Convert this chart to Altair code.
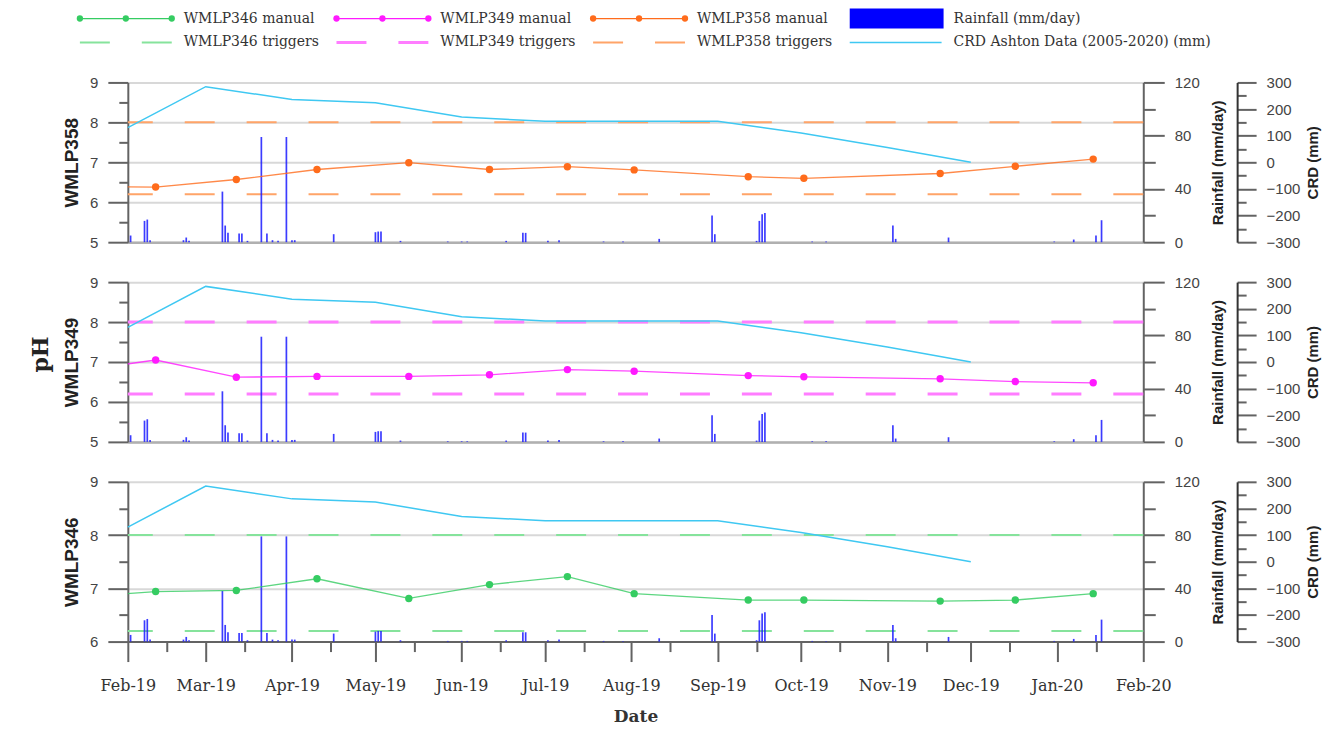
import altair as alt
import pandas as pd

# manual pH readings, same visit dates for the three wells
sample_dates = ["2019-01-14", "2019-02-11", "2019-03-12", "2019-04-10", "2019-05-13",
                "2019-06-11", "2019-07-09", "2019-08-02", "2019-09-12", "2019-10-02",
                "2019-11-20", "2019-12-17", "2020-01-14"]
ph_wmlp358 = [6.40, 6.38, 6.57, 6.82, 6.99, 6.82, 6.89, 6.81, 6.64, 6.60, 6.72, 6.90, 7.08]
ph_wmlp349 = [6.78, 7.05, 6.62, 6.64, 6.64, 6.68, 6.81, 6.77, 6.66, 6.63, 6.58, 6.51, 6.48]
ph_wmlp346 = [6.83, 6.94, 6.96, 7.18, 6.81, 7.07, 7.22, 6.90, 6.78, 6.78, 6.76, 6.78, 6.90]

# trigger levels (pH)
trigger_levels = [6.2, 8.0]

# CRD Ashton (mm), monthly
crd_dates = ["2019-02-01", "2019-03-01", "2019-04-01", "2019-05-01", "2019-06-01", "2019-07-01",
             "2019-08-01", "2019-09-01", "2019-10-01", "2019-11-01", "2019-12-01"]
crd_mm = [130, 284, 236, 224, 170, 154, 154, 154, 110, 56, 0]

# daily rainfall (mm/day), wet days only
rain_dates = ["2019-02-02", "2019-02-07", "2019-02-08", "2019-02-09", "2019-02-21", "2019-02-22",
              "2019-02-23", "2019-03-07", "2019-03-08", "2019-03-09", "2019-03-13", "2019-03-14",
              "2019-03-16", "2019-03-21", "2019-03-23", "2019-03-25", "2019-03-27", "2019-03-30",
              "2019-04-01", "2019-04-02", "2019-04-16", "2019-05-01", "2019-05-02", "2019-05-03",
              "2019-05-10", "2019-05-27", "2019-06-01", "2019-06-03", "2019-06-17", "2019-06-23",
              "2019-06-24", "2019-07-02", "2019-07-06", "2019-07-22", "2019-07-29", "2019-08-11",
              "2019-08-30", "2019-08-31", "2019-09-15", "2019-09-16", "2019-09-17", "2019-09-18",
              "2019-10-05", "2019-10-10", "2019-11-03", "2019-11-04", "2019-11-23", "2019-12-31",
              "2020-01-07", "2020-01-15", "2020-01-17"]
rain_mm = [5, 16, 17, 1.5, 1.5, 3.5,
           1, 38, 12.5, 7, 6.5, 6.5,
           1, 79, 6.5, 1.5, 1, 79,
           1.5, 1.5, 6, 7.5, 8, 8,
           1, 0.5, 0.5, 0.5, 1, 7,
           7, 1, 1.5, 0.5, 0.5, 2.5,
           20, 6, 1, 16, 21, 22,
           0.5, 0.5, 12.5, 2.5, 3.5, 0.5,
           2, 5, 16.5]

# legend entries (row-major, 4 columns)
legend_labels = ["WMLP346 manual", "WMLP349 manual", "WMLP358 manual", "Rainfall (mm/day)",
                 "WMLP346 triggers", "WMLP349 triggers", "WMLP358 triggers",
                 "CRD Ashton Data (2005-2020) (mm)"]
legend_kinds = ["manual", "manual", "manual", "rain", "trigger", "trigger", "trigger", "crd"]

# colours
GREEN, MAGENTA, ORANGE = "#35cc62", "#ff1aff", "#ff6c1c"
GREEN_T, MAGENTA_T, ORANGE_T = "#86e39c", "#ff7dff", "#ffa468"
CYAN = "#3fc8f2"
BLUE = "#1a1aff"
legend_colors = [GREEN, MAGENTA, ORANGE, "#0000ff", GREEN_T, MAGENTA_T, ORANGE_T, CYAN]

AXIS_GREY = "#636363"
NUM_FONT = "'Liberation Sans Narrow', 'Liberation Sans', sans-serif"
SERIF = "DejaVu Serif"
PLOT_W, PLOT_H = 1017, 160

rain_df = pd.DataFrame({"date": pd.to_datetime(rain_dates), "rain": rain_mm})
crd_df = pd.DataFrame({"date": pd.to_datetime(crd_dates), "crd": crd_mm})
trig_df = pd.DataFrame({"level": trigger_levels})

x_domain = [alt.DateTime(year=2019, month=2, date=1), alt.DateTime(year=2020, month=2, date=1)]
month_starts = [(2019, m) for m in range(2, 13)] + [(2020, 1), (2020, 2)]
x_ticks = [alt.DateTime(year=y, month=m, date=1) for y, m in month_starts]
x_ticks += [alt.DateTime(year=y, month=m, date=15) for y, m in month_starts[:-1]]


def x_enc(with_labels):
    if with_labels:
        axis = alt.Axis(
            values=x_ticks, grid=False, title="Date",
            labelExpr="date(datum.value) === 1 ? timeFormat(datum.value, '%b-%y') : ''",
            tickSize={"condition": {"test": "date(datum.value) === 1", "value": 20}, "value": 10},
            tickColor=AXIS_GREY, tickWidth=2, domainColor=AXIS_GREY, domainWidth=2,
            labelFont=SERIF, labelFontSize=16, labelColor="#333", labelPadding=16,
            labelFlush=False, labelOverlap=False,
            titleFont=SERIF, titleFontSize=17, titleFontWeight="bold", titleColor="#333",
            titlePadding=15)
    else:
        axis = alt.Axis(values=x_ticks, grid=False, labels=False, ticks=False, title=None,
                        domainColor="#b0b0b0", domainWidth=2.5)
    return alt.X("date:T", scale=alt.Scale(domain=x_domain, nice=False, padding=0), axis=axis)


def ph_axis(title, ph_min):
    return alt.Axis(
        orient="left", title=title,
        values=[ph_min + 0.5 * i for i in range(int((9 - ph_min) * 2) + 1)],
        labelExpr="datum.value % 1 === 0 ? format(datum.value, 'd') : ''",
        tickSize={"condition": {"test": "datum.value % 1 === 0", "value": 20}, "value": 9},
        grid=True, gridColor="#d8d8d8", gridWidth=2,
        gridOpacity={"condition": {"test": "datum.value % 1 === 0", "value": 1}, "value": 0},
        domainColor=AXIS_GREY, domainWidth=2, tickColor=AXIS_GREY, tickWidth=2,
        labelFont=NUM_FONT, labelFontSize=15, labelColor="#444", labelPadding=10,
        titleFont="Liberation Sans", titleFontSize=19, titleFontWeight="bold",
        titleColor="#222", titlePadding=8)


rain_axis = alt.Axis(
    orient="right", title="Rainfall (mm/day)", values=list(range(0, 121, 20)),
    labelExpr="datum.value % 40 === 0 ? datum.label : ''",
    tickSize={"condition": {"test": "datum.value % 40 === 0", "value": 21}, "value": 12},
    grid=False, domainColor=AXIS_GREY, domainWidth=2, tickColor=AXIS_GREY, tickWidth=2,
    labelFont=NUM_FONT, labelFontSize=15, labelColor="#444", labelPadding=10,
    titleFont="Liberation Sans", titleFontSize=15, titleFontWeight="bold", titleColor="#222",
    titleAngle=270, titleBaseline="top", titlePadding=11)

crd_axis = alt.Axis(
    orient="right", offset=94, title="CRD (mm)", values=list(range(-300, 301, 50)),
    labelExpr="datum.value % 100 === 0 ? datum.label : ''",
    tickSize={"condition": {"test": "datum.value % 100 === 0", "value": 19}, "value": 9},
    grid=False, domainColor="#333", domainWidth=2, tickColor=AXIS_GREY, tickWidth=2,
    labelFont=NUM_FONT, labelFontSize=15, labelColor="#444", labelPadding=10,
    titleFont="Liberation Sans", titleFontSize=15, titleFontWeight="bold", titleColor="#222",
    titleAngle=270, titleBaseline="top", titlePadding=6)


def panel(well, ph_values, color, trig_color, trig_width, ph_min, last):
    x = x_enc(last)
    ph_scale = alt.Scale(domain=[ph_min, 9], nice=False)
    manual_df = pd.DataFrame({"date": pd.to_datetime(sample_dates), "ph": ph_values})

    triggers = alt.Chart(trig_df).mark_rule(
        color=trig_color, strokeWidth=trig_width, strokeDash=[30, 32]
    ).encode(y=alt.Y("level:Q", scale=ph_scale, axis=None))

    rain = alt.Chart(rain_df).mark_bar(size=1.7, color=BLUE, opacity=0.85).encode(
        x=x, y=alt.Y("rain:Q", scale=alt.Scale(domain=[0, 120], nice=False), axis=rain_axis))

    crd = alt.Chart(crd_df).mark_line(color=CYAN, strokeWidth=1.5).encode(
        x=x, y=alt.Y("crd:Q", scale=alt.Scale(domain=[-300, 300], nice=False), axis=crd_axis))

    line = alt.Chart(manual_df).mark_line(color=color, strokeWidth=1.3, opacity=0.8, clip=True).encode(
        x=x, y=alt.Y("ph:Q", scale=ph_scale, axis=ph_axis(well, ph_min)))

    dots = alt.Chart(manual_df).mark_circle(color=color, size=55, opacity=1, clip=True).encode(
        x=x, y=alt.Y("ph:Q", scale=ph_scale, axis=None))

    return alt.layer(triggers, rain, crd, line, dots).resolve_scale(y="independent").properties(
        width=PLOT_W, height=PLOT_H)


# legend drawn as its own small view above the panels
leg_df = pd.DataFrame({
    "label": legend_labels,
    "kind": legend_kinds,
    "col": [i % 4 for i in range(len(legend_labels))],
    "row": [i // 4 for i in range(len(legend_labels))],
})
lcolor = alt.Color("label:N", scale=alt.Scale(domain=legend_labels, range=legend_colors), legend=None)
lbase = alt.Chart(leg_df).encode(
    x=alt.X("col:O", scale=alt.Scale(type="point", padding=0), axis=None),
    y=alt.Y("row:O", scale=alt.Scale(type="point", padding=0), axis=None),
)
leg_layers = [
    lbase.transform_filter("datum.kind === 'manual'").mark_rule(
        xOffset=-48, x2Offset=44, strokeWidth=1.3).encode(x2="col", color=lcolor),
]
for off in (-48, -2, 44):
    leg_layers.append(lbase.transform_filter("datum.kind === 'manual'").mark_circle(
        xOffset=off, size=40, opacity=1).encode(color=lcolor))
leg_layers += [
    lbase.transform_filter("datum.kind === 'rain'").mark_rect(
        xOffset=-48, x2Offset=46, yOffset=-10, y2Offset=10).encode(x2="col", y2="row", color=lcolor),
    lbase.transform_filter("datum.kind === 'trigger'").mark_rule(
        xOffset=-48, x2Offset=44, strokeDash=[30, 32]).encode(
        x2="col", color=lcolor,
        strokeWidth=alt.condition("datum.label === 'WMLP349 triggers'", alt.value(3), alt.value(2))),
    lbase.transform_filter("datum.kind === 'crd'").mark_rule(
        xOffset=-48, x2Offset=44, strokeWidth=1.5).encode(x2="col", color=lcolor),
    lbase.mark_text(align="left", baseline="middle", xOffset=56, font=SERIF, fontSize=14,
                    color="#333").encode(text="label:N"),
]
legend = alt.layer(*leg_layers).properties(width=771, height=24)

p358 = panel("WMLP358", ph_wmlp358, ORANGE, ORANGE_T, 2, 5, False)
p349 = panel("WMLP349", ph_wmlp349, MAGENTA, MAGENTA_T, 3, 5, False)
p346 = panel("WMLP346", ph_wmlp346, GREEN, GREEN_T, 2, 6, True)

chart = alt.vconcat(legend, p358, p349, p346, spacing=40, bounds="flush").resolve_scale(
    x="independent", y="independent", color="independent"
).properties(
    title=alt.TitleParams("pH", orient="left", anchor="middle", font=SERIF, fontSize=22,
                          fontWeight="bold", color="#222", offset=10, dx=12),
    padding={"left": 21, "top": 0, "right": 3, "bottom": 0},
).configure_view(stroke=None)

chart.save("out.html", embed_options={"renderer": "svg", "actions": False})
